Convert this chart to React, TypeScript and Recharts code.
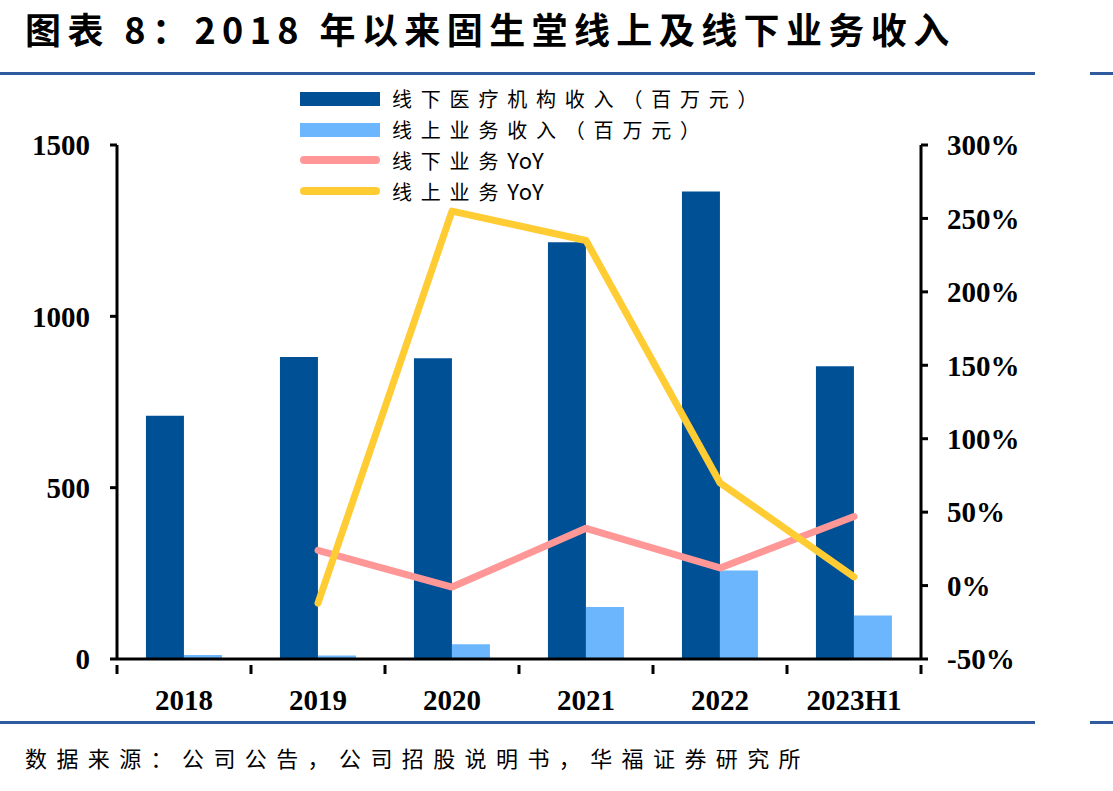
import React from "react";
import {
  Bar,
  ComposedChart,
  Line,
  XAxis,
  YAxis,
} from "recharts";

const categories = ["2018", "2019", "2020", "2021", "2022", "2023H1"];
const offlineRevenue = [710, 881, 878, 1216, 1364, 854];
const onlineRevenue = [12, 10, 43, 152, 258, 127];
const offlineYoY = [null, 24, -1, 39, 12, 47];
const onlineYoY = [null, -12, 255, 235, 70, 6];
const leftTicks = [0, 500, 1000, 1500];
const rightTicks = [-50, 0, 50, 100, 150, 200, 250, 300];

const DARK = "#005095";
const LIGHT = "#6cb6fe";
const PINK = "#ff9797";
const GOLD = "#ffcc33";
const RULE = "#2f5b9e";

const data = categories.map((name, i) => ({
  name,
  offline: offlineRevenue[i],
  online: onlineRevenue[i],
  offYoY: offlineYoY[i],
  onYoY: onlineYoY[i],
}));

const numFont = { fontFamily: "'Liberation Serif', serif", fontWeight: 700, fontSize: 29 };
const cjk = "'Noto Sans CJK SC', sans-serif";

function XTick(props: any) {
  const { x, y, payload, index } = props;
  const half = payload?.offset || 67;
  return (
    <g>
      <line x1={x - half} x2={x - half} y1={y - 2} y2={y + 7} stroke="#000" strokeWidth={3} />
      {index === categories.length - 1 && (
        <line x1={x + half} x2={x + half} y1={y - 2} y2={y + 7} stroke="#000" strokeWidth={3} />
      )}
      <text x={x} y={y + 43} textAnchor="middle" fill="#000" style={numFont}>
        {payload.value}
      </text>
    </g>
  );
}

const legendItems = [
  { cn: "线下医疗机构收入（百万元）", en: "", color: DARK, kind: "bar" },
  { cn: "线上业务收入（百万元）", en: "", color: LIGHT, kind: "bar" },
  { cn: "线下业务", en: "YoY", color: PINK, kind: "line" },
  { cn: "线上业务", en: "YoY", color: GOLD, kind: "line" },
];

function LegendBox() {
  return (
    <div style={{ position: "absolute", left: 300, top: 84, fontFamily: cjk, fontSize: 20, color: "#000" }}>
      {legendItems.map((it) => (
        <div key={it.cn} style={{ display: "flex", alignItems: "center", height: 30.5, whiteSpace: "nowrap" }}>
          <svg width={92} height={20}>
            {it.kind === "bar" ? (
              <rect x={0} y={3} width={80} height={14} fill={it.color} />
            ) : (
              <line x1={4} x2={76} y1={10} y2={10} stroke={it.color} strokeWidth={8} strokeLinecap="round" />
            )}
          </svg>
          <span style={{ lineHeight: "22px" }}>
            <span style={{ letterSpacing: 8.8 }}>{it.cn}</span>
            {it.en && <span style={{ fontSize: 22, letterSpacing: 1 }}>{it.en}</span>}
          </span>
        </div>
      ))}
    </div>
  );
}

export default function App() {
  return (
    <div style={{ position: "absolute", left: 0, top: 0, width: 1113, height: 791, background: "#fff" }}>
      <div
        style={{
          position: "absolute",
          left: 25,
          top: 2,
          fontFamily: cjk,
          fontWeight: 700,
          fontSize: 36,
          letterSpacing: 6.4,
          whiteSpace: "nowrap",
          color: "#000",
        }}
      >
        图表 8：2018 年以来固生堂线上及线下业务收入
      </div>
      <div style={{ position: "absolute", left: 0, top: 72, width: 1035, height: 3, background: RULE }} />
      <div style={{ position: "absolute", left: 1090, top: 72, width: 23, height: 3, background: RULE }} />
      <div style={{ position: "absolute", left: 0, top: 721, width: 1035, height: 3, background: RULE }} />
      <div style={{ position: "absolute", left: 1090, top: 721, width: 23, height: 3, background: RULE }} />
      <div
        style={{
          position: "absolute",
          left: 25,
          top: 741,
          fontFamily: cjk,
          fontSize: 22,
          letterSpacing: 9.4,
          whiteSpace: "nowrap",
          color: "#000",
        }}
      >
        数据来源：公司公告，公司招股说明书，华福证券研究所
      </div>
      <div style={{ position: "absolute", left: 0, top: 0 }}>
        <ComposedChart
          width={1113}
          height={791}
          data={data}
          margin={{ top: 145, bottom: 82, left: 57, right: 92 }}
          barCategoryGap="21.6%"
          barGap={0}
        >
          <XAxis
            dataKey="name"
            xAxisId="x"
            height={50}
            axisLine={{ stroke: "#000", strokeWidth: 3 }}
            tickLine={false}
            tick={<XTick />}
            interval={0}
          />
          <YAxis
            yAxisId="left"
            width={60}
            domain={[0, 1500]}
            ticks={leftTicks}
            interval={0}
            axisLine={{ stroke: "#000", strokeWidth: 3 }}
            tickLine={{ stroke: "#000", strokeWidth: 3 }}
            tickSize={7}
            tickMargin={20}
            tick={{ fill: "#000", ...numFont }}
          />
          <YAxis
            yAxisId="right"
            orientation="right"
            width={100}
            domain={[-50, 300]}
            ticks={rightTicks}
            interval={0}
            axisLine={{ stroke: "#000", strokeWidth: 3 }}
            tickLine={{ stroke: "#000", strokeWidth: 3 }}
            tickSize={7}
            tickMargin={19}
            tickFormatter={(v) => `${v}%`}
            tick={{ fill: "#000", ...numFont }}
          />
          <Bar xAxisId="x" yAxisId="left" dataKey="offline" fill={DARK} isAnimationActive={false} />
          <Bar xAxisId="x" yAxisId="left" dataKey="online" fill={LIGHT} isAnimationActive={false} />
          <Line
            xAxisId="x"
            yAxisId="right"
            dataKey="offYoY"
            stroke={PINK}
            strokeWidth={7}
            strokeLinecap="round"
            strokeLinejoin="round"
            dot={false}
            activeDot={false}
            isAnimationActive={false}
          />
          <Line
            xAxisId="x"
            yAxisId="right"
            dataKey="onYoY"
            stroke={GOLD}
            strokeWidth={7}
            strokeLinecap="round"
            strokeLinejoin="round"
            dot={false}
            activeDot={false}
            isAnimationActive={false}
          />
        </ComposedChart>
      </div>
      <LegendBox />
    </div>
  );
}
